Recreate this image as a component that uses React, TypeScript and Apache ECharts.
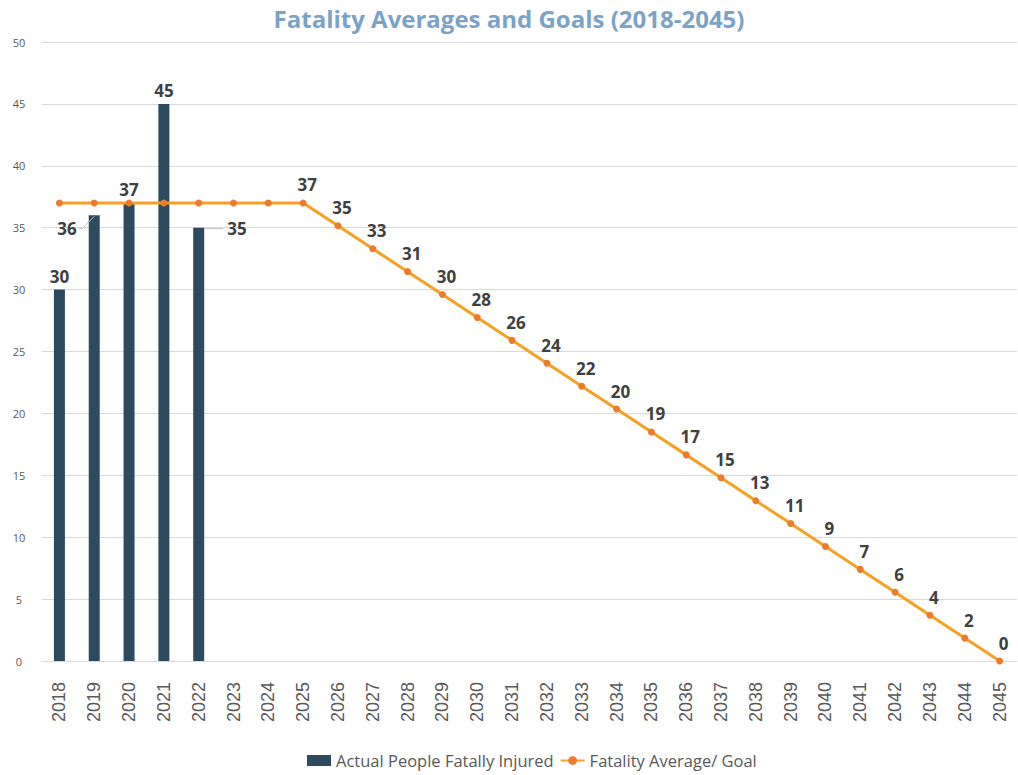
import React, { useEffect, useRef } from "react";
import * as echarts from "echarts";

const years = [
  "2018", "2019", "2020", "2021", "2022", "2023", "2024", "2025", "2026", "2027",
  "2028", "2029", "2030", "2031", "2032", "2033", "2034", "2035", "2036", "2037",
  "2038", "2039", "2040", "2041", "2042", "2043", "2044", "2045",
];
const actual = [30, 36, 37, 45, 35];
const goal = [
  37, 37, 37, 37, 37, 37, 37, 37, 35.15, 33.3,
  31.45, 29.6, 27.75, 25.9, 24.05, 22.2, 20.35, 18.5, 16.65, 14.8,
  12.95, 11.1, 9.25, 7.4, 5.55, 3.7, 1.85, 0,
];
const goalLabelStart = 7;

export default function App() {
  const ref = useRef<HTMLDivElement>(null);
  useEffect(() => {
    if (!ref.current) return;
    const chart = echarts.init(ref.current, null, { renderer: "svg" });
    const labelStyle = {
      show: true,
      fontFamily: "Open Sans",
      fontWeight: "bold" as const,
      fontSize: 17,
      color: "#404040",
      formatter: (p: any) => String(Math.round(p.value)),
    };
    const goalData = goal.map((v, i) => ({
      value: v,
      label: i >= goalLabelStart ? { ...labelStyle, position: "top", distance: 6, offset: [4, 0] } : { show: false },
    }));
    const barW = 11;
    chart.setOption({
      animation: false,
      title: {
        text: "Fatality Averages and Goals (2018-2045)",
        left: "center",
        top: 1,
        textStyle: { fontFamily: "Open Sans", fontWeight: "bold", fontSize: 24, color: "#7ba3c8" },
      },
      legend: {
        bottom: 1,
        left: 302,
        itemGap: 6,
        itemWidth: 24,
        itemHeight: 11,
        textStyle: { fontFamily: "Open Sans", fontSize: 16.5, color: "#595959" },
        data: [
          { name: "Actual People Fatally Injured", icon: "rect" },
          { name: "Fatality Average/ Goal" },
        ],
      },
      grid: { left: 42, right: 1, top: 42, bottom: 114, containLabel: false },
      xAxis: {
        type: "category",
        data: years,
        axisTick: { show: false },
        axisLine: { show: true, lineStyle: { color: "#d9d9d9" } },
        axisLabel: {
          rotate: 90,
          margin: 21,
          fontFamily: "Liberation Sans",
          fontSize: 18,
          color: "#595959",
          interval: 0,
        },
      },
      yAxis: {
        type: "value",
        min: 0,
        max: 50,
        interval: 5,
        axisLabel: { fontFamily: "Open Sans", fontSize: 11, color: "#595959", margin: 23, align: "center" },
        splitLine: { lineStyle: { color: "#d9d9d9" } },
      },
      series: [
        {
          name: "Actual People Fatally Injured",
          type: "bar",
          data: actual,
          barWidth: barW,
          itemStyle: { color: "#2c4a60" },
          label: { ...labelStyle, position: "top", distance: 5 },
          labelLayout: (p: any) => {
            const r = p.rect;
            if (p.dataIndex === 1) {
              return { x: r.x - 12, y: r.y + 13, align: "right", verticalAlign: "middle" };
            }
            if (p.dataIndex === 4) {
              return { x: r.x + r.width + 23, y: r.y + 1, align: "left", verticalAlign: "middle" };
            }
            return {};
          },
          z: 2,
        },
        {
          name: "Fatality Average/ Goal",
          type: "line",
          data: goalData,
          symbol: "circle",
          symbolSize: 7,
          lineStyle: { color: "#f7a021", width: 3 },
          itemStyle: { color: "#ee7a2e" },
          z: 3,
        },
      ],
    });
    const p1 = chart.convertToPixel({ seriesIndex: 0 }, [1, actual[1]]) as number[];
    const p4 = chart.convertToPixel({ seriesIndex: 0 }, [4, actual[4]]) as number[];
    const lineStyle = { stroke: "#bfbfbf", lineWidth: 1, fill: "none" };
    chart.setOption({
      graphic: [
        {
          type: "polyline",
          z: 10,
          shape: {
            points: [
              [p1[0] - barW / 2 - 10, p1[1] + 13],
              [p1[0] - barW / 2 - 6, p1[1] + 13],
              [p1[0], p1[1] + 1],
            ],
          },
          style: lineStyle,
        },
        {
          type: "line",
          z: 10,
          shape: { x1: p4[0] + barW / 2, y1: p4[1] + 1, x2: p4[0] + barW / 2 + 19, y2: p4[1] + 1 },
          style: lineStyle,
        },
      ],
    });
    return () => chart.dispose();
  }, []);
  return (
    <div
      ref={ref}
      style={{ position: "absolute", left: 0, top: 0, width: 1018, height: 775 }}
    />
  );
}
